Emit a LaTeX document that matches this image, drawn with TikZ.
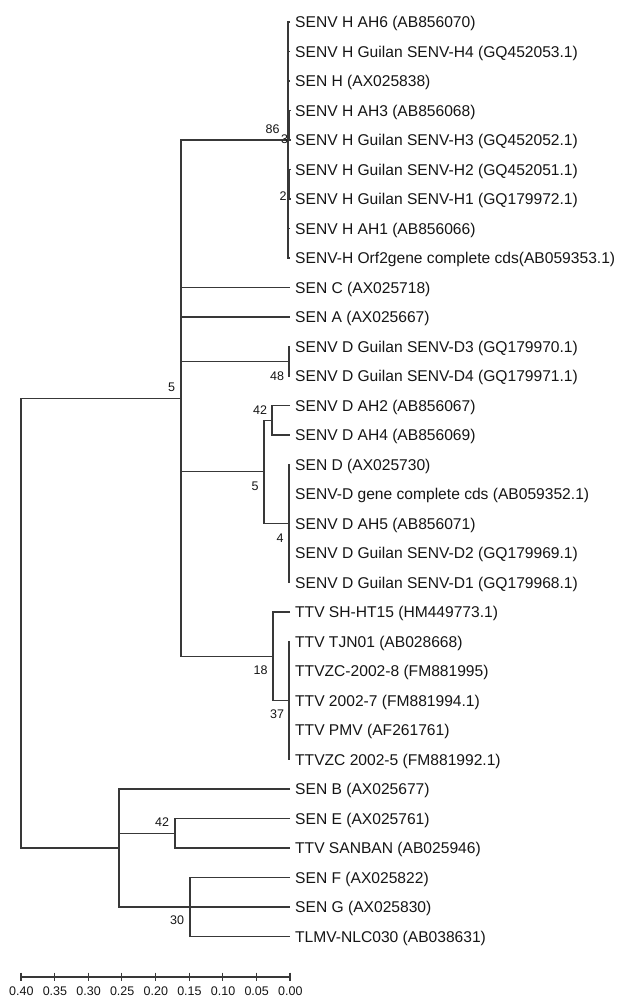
\documentclass[tikz,border=0pt]{standalone}
\usepackage{fontspec}
\setmainfont{Liberation Sans}
\definecolor{linec}{HTML}{383838}
\definecolor{txtc}{HTML}{151515}
\begin{document}
\begin{tikzpicture}[x=1pt,y=-1pt,
  br/.style={draw=linec, line width=1.1pt},
  leaf/.style={anchor=base west, inner sep=0pt, font=\fontsize{15.6}{18}\selectfont, text=txtc},
  bs/.style={inner sep=0pt, font=\fontsize{12.5}{14}\selectfont, text=txtc},
  sc/.style={inner sep=0pt, font=\fontsize{12.5}{14}\selectfont, text=txtc}]
\useasboundingbox (0,0) rectangle (623,998);
% leaves
\foreach \i/\t in {1/{SENV H AH6 (AB856070)},2/{SENV H Guilan SENV-H4 (GQ452053.1)},3/{SEN H (AX025838)},4/{SENV H AH3 (AB856068)},5/{SENV H Guilan SENV-H3 (GQ452052.1)},6/{SENV H Guilan SENV-H2 (GQ452051.1)},7/{SENV H Guilan SENV-H1 (GQ179972.1)},8/{SENV H AH1 (AB856066)},9/{SENV-H Orf2gene complete cds(AB059353.1)},10/{SEN C (AX025718)},11/{SEN A (AX025667)},12/{SENV D Guilan SENV-D3 (GQ179970.1)},13/{SENV D Guilan SENV-D4 (GQ179971.1)},14/{SENV D AH2 (AB856067)},15/{SENV D AH4 (AB856069)},16/{SEN D (AX025730)},17/{SENV-D gene complete cds (AB059352.1)},18/{SENV D AH5 (AB856071)},19/{SENV D Guilan SENV-D2 (GQ179969.1)},20/{SENV D Guilan SENV-D1 (GQ179968.1)},21/{TTV SH-HT15 (HM449773.1)},22/{TTV TJN01 (AB028668)},23/{TTVZC-2002-8 (FM881995)},24/{TTV 2002-7 (FM881994.1)},25/{TTV PMV (AF261761)},26/{TTVZC 2002-5 (FM881992.1)},27/{SEN B (AX025677)},28/{SEN E (AX025761)},29/{TTV SANBAN (AB025946)},30/{SEN F (AX025822)},31/{SEN G (AX025830)},32/{TLMV-NLC030 (AB038631)}}{
  \pgfmathsetmacro{\yy}{22+(\i-1)*29.5}
  \coordinate (t\i) at (290,\yy);
  \node[leaf] (l\i) at (295,\yy+5.6) {\t};
}
% internal nodes
\coordinate (root) at (21,623);
\coordinate (nU) at (181,398.1);
\coordinate (nB) at (119,848);
\coordinate (nH) at (288,140);
\coordinate (nH34) at (289.5,125.25);
\coordinate (nH12) at (289.5,184.25);
\coordinate (nDD) at (289,361.25);
\coordinate (nD) at (264,471.9);
\coordinate (nAH) at (272,420.25);
\coordinate (nSD) at (289,523.5);
\coordinate (nT) at (273,656.25);
\coordinate (nTi) at (289,700.5);
\coordinate (nEA) at (175,833.25);
\coordinate (nFG) at (190,907);
% root
\draw[br] (nU) -| (root) |- (nB);
% upper
\draw[br] (nH) -| (nU) |- (nT);
\draw[br] (nU) |- (t10);
\draw[br] (nU) |- (t11);
\draw[br] (nU) |- (nDD);
\draw[br] (nU) |- (nD);
% H clade
\draw[br] (t1) -| (nH) |- (t9);
\foreach \i in {2,3,8} \draw[br] (nH |- t\i) -- (t\i);
\draw[br] (nH |- nH34) -- (nH34);
\draw[br] (nH |- nH12) -- (nH12);
\draw[br] (t4) -| (nH34) |- (t5);
\draw[br] (t6) -| (nH12) |- (t7);
% D3/D4
\draw[br] (t12) -| (nDD) |- (t13);
% D clade
\draw[br] (nAH) -| (nD) |- (nSD);
\draw[br] (t14) -| (nAH) |- (t15);
\draw[br] (t16) -| (nSD) |- (t20);
\foreach \i in {17,18,19} \draw[br] (nSD |- t\i) -- (t\i);
% TTV
\draw[br] (t21) -| (nT) |- (nTi);
\draw[br] (t22) -| (nTi) |- (t26);
\foreach \i in {23,24,25} \draw[br] (nTi |- t\i) -- (t\i);
% bottom
\draw[br] (t27) -| (nB) |- (nFG);
\draw[br] (nB |- nEA) -- (nEA);
\draw[br] (t28) -| (nEA) |- (t29);
\draw[br] (t30) -| (nFG) |- (t32);
\draw[br] (nFG) -- (t31);
% bootstrap values
\node[bs] (b86) at (272.5,129) {86};
\node[bs] (b3) at (284.5,139) {3};
\node[bs] (b2) at (283,196) {2};
\node[bs] (b5a) at (171.5,387.5) {5};
\node[bs] (b48) at (277,376.5) {48};
\node[bs] (b42a) at (260,410.5) {42};
\node[bs] (b5b) at (255,486) {5};
\node[bs] (b4) at (280,538) {4};
\node[bs] (b18) at (260.5,670) {18};
\node[bs] (b37) at (277,714) {37};
\node[bs] (b42b) at (162,822) {42};
\node[bs] (b30) at (177,920) {30};
% scale bar
\coordinate (s0) at (21,977);
\coordinate (s1) at (290,977);
\draw[br] (s0) -- (s1);
\foreach \k/\lab in {0/0.40,1/0.35,2/0.30,3/0.25,4/0.20,5/0.15,6/0.10,7/0.05,8/0.00}{
  \coordinate (k\k) at (21+\k*33.625,977);
  \draw[br] ([yshift=4.5pt]k\k) -- ([yshift=-4pt]k\k);
  \node[sc] (sl\k) at (21.3+\k*33.625,991.5) {\lab};
}
\end{tikzpicture}
\end{document}
